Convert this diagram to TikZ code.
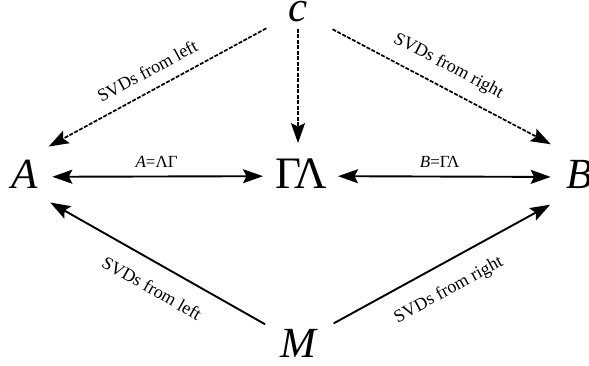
\documentclass[tikz,border=0pt]{standalone}
\usepackage{fontspec}
\setmainfont{Liberation Serif}
\usetikzlibrary{arrows.meta, positioning}

\begin{document}
\begin{tikzpicture}[
  x=1pt, y=1pt,
  vert/.style={inner sep=0pt, anchor=base, font=\fontsize{43}{43}\selectfont},
  lbl/.style={inner sep=0pt, font=\fontsize{18}{18}\selectfont},
  eqlbl/.style={inner sep=0pt, font=\fontsize{17}{17}\selectfont},
  arr/.style={-{Stealth[length=20pt, width=14pt, inset=3.5pt]}, line width=1.9pt},
  both/.style={{Stealth[length=20pt, width=14pt, inset=3.5pt]}-{Stealth[length=20pt, width=14pt, inset=3.5pt]}, line width=1.9pt},
  dsh/.style={arr, line width=1.7pt, dash pattern=on 4pt off 1.5pt},
]
\useasboundingbox (0,0) rectangle (589,-365);

\node[vert] (c)  at (298,-21)  {\itshape c};
\node[vert] (A)  at (25,-188)  {\itshape A};
\node[vert, font=\fontsize{45}{45}\selectfont] (GL) at (301,-188) {ΓΛ};
\node[vert] (B)  at (580,-188) {\itshape B};
\node[vert] (M)  at (298,-357) {\itshape M};

% dashed arrows from c
\draw[dsh, shorten <=25pt, shorten >=27pt] (c) -- (A.north)
  node[lbl, midway, sloped, above=12pt] {SVDs from left};
\draw[dsh, shorten <=28pt, shorten >=33pt] (c) -- (B.north)
  node[lbl, pos=0.48, sloped, above=12pt] {SVDs from right};
\draw[dsh, shorten <=7pt, shorten >=15pt] (c.south) -- (c.south |- GL.north);

% equalities
\draw[both, shorten <=14pt, shorten >=12pt] ([yshift=-3pt]A.east) -- ([yshift=-3pt]GL.west)
  node[eqlbl, midway, above=8pt] {\itshape A\upshape =ΛΓ};
\draw[both, shorten <=11pt, shorten >=16pt] ([yshift=-3pt]GL.east) -- ([yshift=-3pt]B.west)
  node[eqlbl, pos=0.47, above=8pt] {\itshape B\upshape =ΓΛ};

% solid arrows from M
\draw[arr, shorten <=17pt, shorten >=29pt] (M) -- (A.south)
  node[lbl, pos=0.455, sloped, below=17pt] {SVDs from left};
\draw[arr, shorten <=20pt, shorten >=34pt] (M) -- (B.south)
  node[lbl, pos=0.455, sloped, below=17pt] {SVDs from right};
\end{tikzpicture}
\end{document}
